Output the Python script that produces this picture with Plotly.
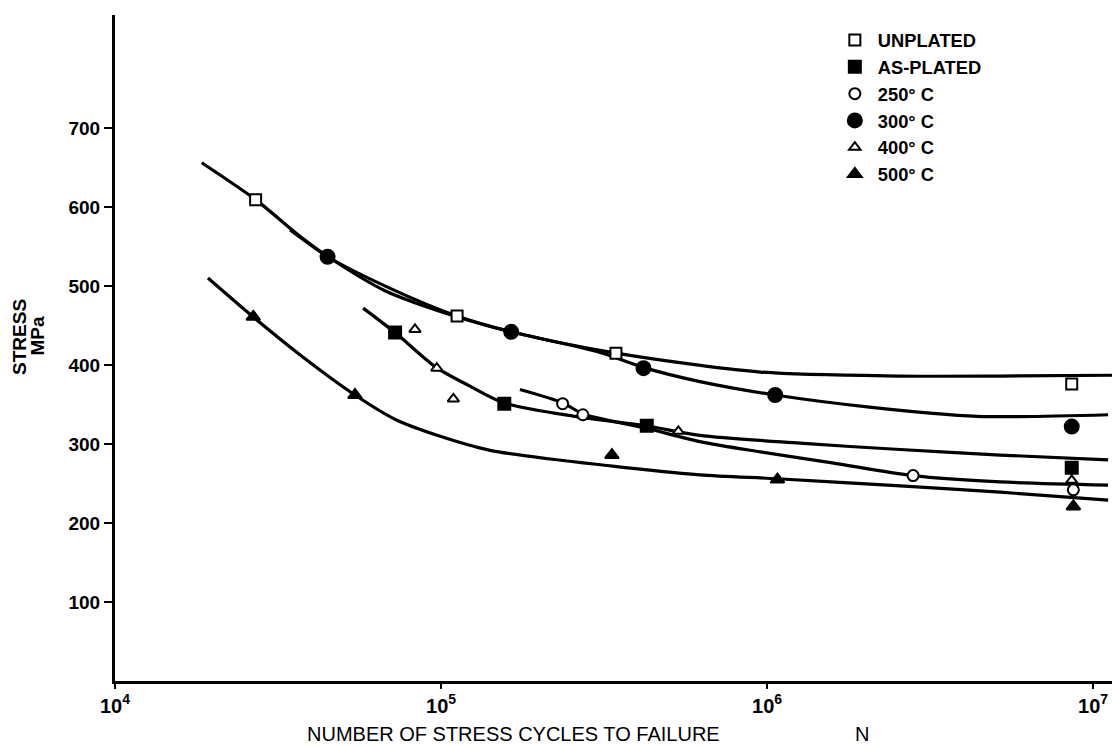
import plotly.graph_objects as go

# ---- measured points (cycles to failure N, stress in MPa) ----
unplated_n = [27000, 112000, 344000, 8.6e6]
unplated_s = [609, 462, 415, 376]

asplated_n = [72300, 156300, 427600, 8.6e6]
asplated_s = [441, 351, 323, 270]

c250_n = [236000, 272300, 2.805e6, 8.7e6]
c250_s = [351, 337, 260, 242]

c300_n = [44870, 164100, 417800, 1.059e6, 8.6e6]
c300_s = [537, 442, 396, 362, 322]

c400_n = [83200, 97050, 109100, 534600, 8.6e6]
c400_s = [445, 396, 357, 316, 254]

c500_n = [26550, 54450, 334200, 1.076e6, 8.7e6]
c500_s = [461, 362, 286, 255, 221]

# ---- hand-faired S-N curves ----
fit_unplated_n = [18450, 27040, 36900, 44980, 69820, 111900, 164100, 344400,
                  955000, 2.57e6, 5.19e6, 1.143e7]
fit_unplated_s = [656, 609, 563, 537, 497, 462, 442, 415, 391, 386, 386, 387]

fit_300_n = [34440, 44980, 67300, 111900, 164100, 307600, 416900, 622300,
             1.059e6, 2.028e6, 4.406e6, 1.112e7]
fit_300_s = [571, 537, 494, 461, 442, 416, 397, 379, 362, 347, 335, 337]

fit_asplated_n = [57680, 72280, 96600, 123000, 156000, 257000, 425600, 622300,
                  1.262e6, 2.559e6, 5.188e6, 1.112e7]
fit_asplated_s = [472, 441, 397, 373, 352, 335, 323, 311, 301, 293, 286, 280]

fit_250_n = [174600, 236600, 272900, 425600, 622300, 952800, 1.585e6, 2.805e6,
             5.188e6, 1.112e7]
fit_250_s = [369, 352, 338, 320, 303, 290, 276, 260, 252, 248]

fit_500_n = [19280, 26490, 36900, 54450, 73280, 97270, 141300, 335000, 622300,
             1.074e6, 2.559e6, 5.188e6, 1.112e7]
fit_500_s = [510, 461, 413, 362, 330, 311, 292, 272, 261, 256, 247, 239, 229]

y_ticks = [100, 200, 300, 400, 500, 600, 700]
x_tickvals = [1e4, 1e5, 1e6, 1e7]
x_ticktext = ["10<sup>4</sup>", "10<sup>5</sup>", "10<sup>6</sup>", "10<sup>7</sup>"]

BOLD = "Liberation Sans"

fig = go.Figure()

for xs, ys in [(fit_unplated_n, fit_unplated_s), (fit_300_n, fit_300_s),
               (fit_asplated_n, fit_asplated_s), (fit_250_n, fit_250_s),
               (fit_500_n, fit_500_s)]:
    fig.add_trace(go.Scatter(x=xs, y=ys, mode="lines", showlegend=False,
                             hoverinfo="skip",
                             line=dict(color="black", width=3.2,
                                       shape="spline", smoothing=0.8)))

series = [
    ("UNPLATED", unplated_n, unplated_s, "square", "white", 11),
    ("AS-PLATED", asplated_n, asplated_s, "square", "black", 12),
    ("250° C", c250_n, c250_s, "circle", "white", 11),
    ("300° C", c300_n, c300_s, "circle", "black", 14),
    ("400° C", c400_n, c400_s, "triangle-up", "white", 10),
    ("500° C", c500_n, c500_s, "triangle-up", "black", 12),
]
for name, xs, ys, sym, fill, size in series:
    fig.add_trace(go.Scatter(
        x=xs, y=ys, mode="markers", name=name,
        marker=dict(symbol=sym, color=fill, size=size,
                    line=dict(color="black", width=2))))

fig.update_layout(
    width=1112, height=746,
    margin=dict(l=115, r=0, t=15, b=65),
    paper_bgcolor="white", plot_bgcolor="white",
    showlegend=True,
    legend=dict(x=0.719, y=0.99, xanchor="left", yanchor="top",
                bgcolor="rgba(0,0,0,0)", itemclick=False,
                font=dict(family=BOLD, size=18.3, color="black", weight="bold"),
                tracegroupgap=0, itemwidth=36),
    font=dict(family=BOLD, color="black"),
)

fig.update_xaxes(
    type="log", range=[4, 7.058],
    showgrid=False, zeroline=False,
    showline=True, linecolor="black", linewidth=2.5,
    ticks="outside", ticklen=5, tickwidth=2, tickcolor="black",
    tickvals=x_tickvals, ticktext=x_ticktext,
    tickfont=dict(family=BOLD, size=20, color="black", weight="bold"),
)
fig.update_yaxes(
    range=[0, 843],
    showgrid=False, zeroline=False,
    showline=True, linecolor="black", linewidth=3,
    ticks="outside", ticklen=8, tickwidth=2, tickcolor="black",
    tickvals=y_ticks,
    tickfont=dict(family=BOLD, size=19, color="black", weight="bold"),
)

# rotated two-line axis title, each line placed on its own
fig.add_annotation(text="STRESS", textangle=-90,
                   xref="paper", yref="paper", x=-0.096, y=0.517,
                   xanchor="center", yanchor="middle", showarrow=False,
                   font=dict(family=BOLD, size=19, color="black", weight="bold"))
fig.add_annotation(text="MPa", textangle=-90,
                   xref="paper", yref="paper", x=-0.078, y=0.519,
                   xanchor="center", yanchor="middle", showarrow=False,
                   font=dict(family=BOLD, size=19, color="black", weight="bold"))
fig.add_annotation(text="NUMBER OF STRESS CYCLES TO FAILURE",
                   xref="paper", yref="paper", x=0.4, y=-0.08,
                   xanchor="center", yanchor="middle", showarrow=False,
                   font=dict(family=BOLD, size=20, color="black"))
fig.add_annotation(text="N",
                   xref="paper", yref="paper", x=0.749, y=-0.08,
                   xanchor="center", yanchor="middle", showarrow=False,
                   font=dict(family=BOLD, size=20, color="black"))

fig.write_html("out.html")
